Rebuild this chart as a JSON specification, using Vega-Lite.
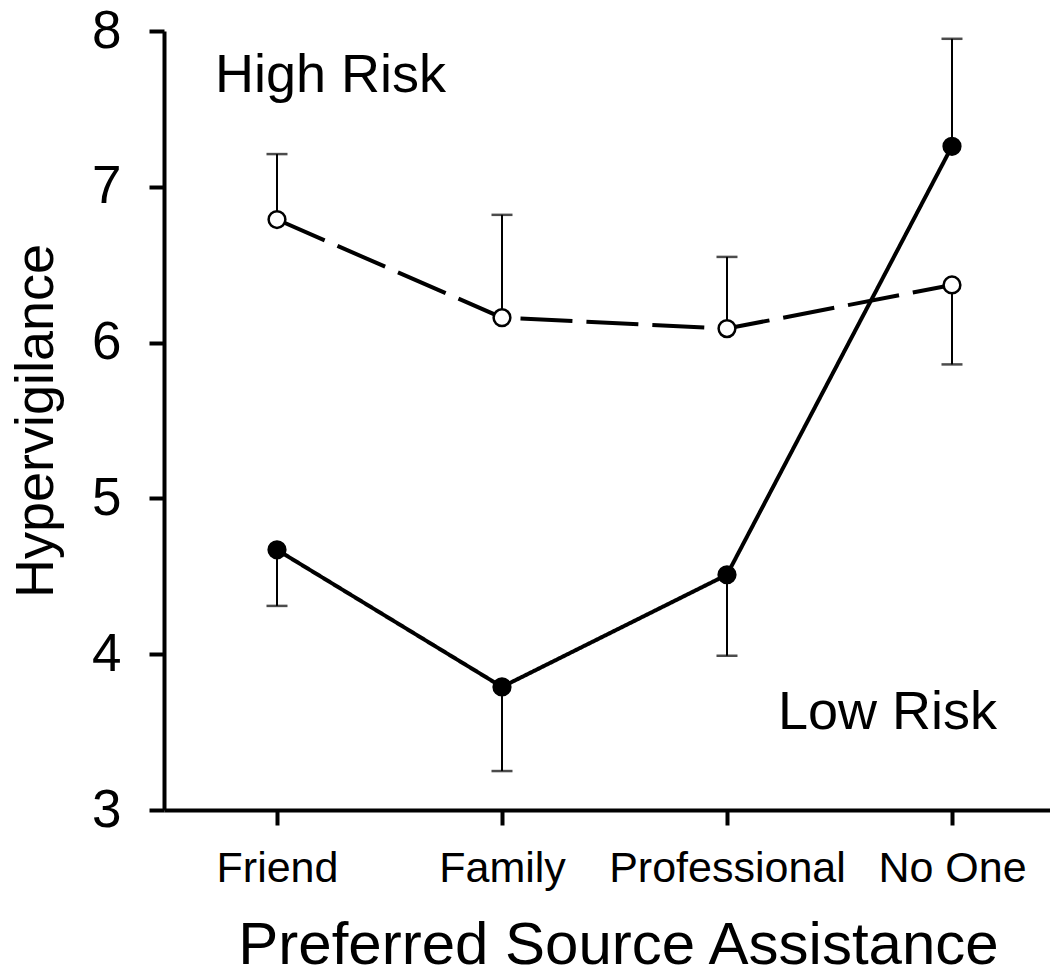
{
  "$schema": "https://vega.github.io/schema/vega-lite/v6.json",
  "autosize": "none",
  "width": 886,
  "height": 779,
  "padding": {"top": 31, "left": 164, "right": 0, "bottom": 167},
  "background": "white",
  "config": {
    "view": {"stroke": null},
    "font": "Liberation Sans",
    "axis": {"grid": false, "domainColor": "black", "tickColor": "black", "labelColor": "black", "titleColor": "black", "labelFont": "Liberation Sans", "titleFont": "Liberation Sans", "titleFontWeight": "normal", "labelLimit": 0}
  },
  "datasets": {
    "stats": [
      {"source": "Friend", "group": "High Risk", "mean": 6.79, "err": 7.21},
      {"source": "Family", "group": "High Risk", "mean": 6.16, "err": 6.82},
      {"source": "Professional", "group": "High Risk", "mean": 6.09, "err": 6.55},
      {"source": "No One", "group": "High Risk", "mean": 6.37, "err": 5.86},
      {"source": "Friend", "group": "Low Risk", "mean": 4.67, "err": 4.31},
      {"source": "Family", "group": "Low Risk", "mean": 3.79, "err": 3.25},
      {"source": "Professional", "group": "Low Risk", "mean": 4.51, "err": 3.99},
      {"source": "No One", "group": "Low Risk", "mean": 7.26, "err": 7.95}
    ],
    "notes": [
      {"label": "High Risk", "source": "Friend", "pos": 7.71, "side": "left"},
      {"label": "Low Risk", "source": "No One", "pos": 3.62, "side": "right"}
    ]
  },
  "layer": [
    {
      "data": {"name": "stats"},
      "mark": {"type": "rule", "color": "black", "strokeWidth": 2},
      "encoding": {
        "x": {"field": "source", "type": "nominal", "sort": ["Friend", "Family", "Professional", "No One"],
          "scale": {"type": "point", "padding": 0.4689, "align": 0.5355},
          "axis": {"title": "Preferred Source Assistance", "labelAngle": 0, "labelFontSize": 43, "titleFontSize": 60, "tickSize": 15, "tickWidth": 4, "domainWidth": 4, "labelPadding": 22, "titlePadding": 26, "titleX": 454, "titleAnchor": "middle"}},
        "y": {"field": "mean", "type": "quantitative",
          "scale": {"domain": [3, 8], "nice": false, "zero": false},
          "axis": {"title": "Hypervigilance", "values": [3, 4, 5, 6, 7, 8], "format": "d", "labelFontSize": 53, "titleFontSize": 54, "tickSize": 15, "tickWidth": 4, "domainWidth": 4, "labelPadding": 28, "titlePadding": 28}},
        "y2": {"field": "err"}
      }
    },
    {
      "data": {"name": "stats"},
      "mark": {"type": "tick", "color": "black", "thickness": 2.5, "size": 21},
      "encoding": {
        "x": {"field": "source", "type": "nominal", "sort": ["Friend", "Family", "Professional", "No One"]},
        "y": {"field": "err", "type": "quantitative"}
      }
    },
    {
      "data": {"name": "stats"},
      "mark": {"type": "line", "color": "black", "strokeWidth": 4},
      "encoding": {
        "x": {"field": "source", "type": "nominal", "sort": ["Friend", "Family", "Professional", "No One"]},
        "y": {"field": "mean", "type": "quantitative"},
        "detail": {"field": "group"},
        "strokeDash": {"field": "group", "type": "nominal", "scale": {"domain": ["High Risk", "Low Risk"], "range": [[52, 14], [1, 0]]}, "legend": null}
      }
    },
    {
      "data": {"name": "stats"},
      "mark": {"type": "point", "filled": false, "shape": "circle", "stroke": "black", "strokeWidth": 2.5, "size": 280, "opacity": 1},
      "encoding": {
        "x": {"field": "source", "type": "nominal", "sort": ["Friend", "Family", "Professional", "No One"]},
        "y": {"field": "mean", "type": "quantitative"},
        "fill": {"field": "group", "type": "nominal", "scale": {"domain": ["High Risk", "Low Risk"], "range": ["white", "black"]}, "legend": null}
      }
    },
    {
      "data": {"name": "notes"},
      "transform": [{"filter": "datum.side == 'left'"}],
      "mark": {"type": "text", "align": "left", "baseline": "middle", "fontSize": 54, "dx": -62, "color": "black", "font": "Liberation Sans"},
      "encoding": {
        "x": {"field": "source", "type": "nominal", "sort": ["Friend", "Family", "Professional", "No One"]},
        "y": {"field": "pos", "type": "quantitative"},
        "text": {"field": "label"}
      }
    },
    {
      "data": {"name": "notes"},
      "transform": [{"filter": "datum.side == 'right'"}],
      "mark": {"type": "text", "align": "right", "baseline": "middle", "fontSize": 54, "dx": 45, "color": "black", "font": "Liberation Sans"},
      "encoding": {
        "x": {"field": "source", "type": "nominal", "sort": ["Friend", "Family", "Professional", "No One"]},
        "y": {"field": "pos", "type": "quantitative"},
        "text": {"field": "label"}
      }
    }
  ]
}
